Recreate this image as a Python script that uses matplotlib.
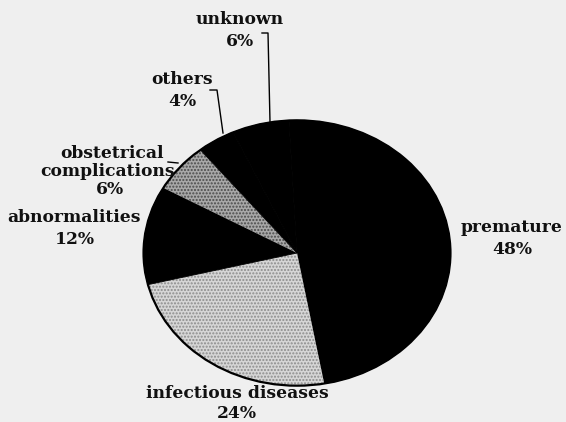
import matplotlib.pyplot as plt
from matplotlib.patches import Circle

# slices, clockwise from the top
causes = ['premature', 'infectious diseases', 'abnormalities',
          'obstetrical\ncomplications', 'others', 'unknown']
shares = [48, 24, 12, 6, 4, 6]
fills = ['#000000', '#d6d6d6', '#000000', '#a8a8a8', '#000000', '#000000']
dots = ['#000000', '#8c8c8c', '#000000', '#4a4a4a', '#000000', '#000000']

W, H = 566, 422
fig = plt.figure(figsize=(W / 100, H / 100), dpi=100, facecolor='#efefef')

# pie centre (297, 253) px, radii 155 x 134 px -> tilted ellipse
cx, cy, rx, ry = 297, 253, 155, 134
ax = fig.add_axes([(cx - rx) / W, 1 - (cy + ry) / H, 2 * rx / W, 2 * ry / H])
wedges, _ = ax.pie(shares, startangle=93, counterclock=False, radius=1,
                   colors=fills, wedgeprops=dict(linewidth=0.6))
for w, d, f in zip(wedges, dots, fills):
    w.set_edgecolor(d)
    if f != '#000000':
        w.set_hatch('.....')
        w.set_linewidth(0)
ax.add_patch(Circle((0, 0), 1.0, fill=False, lw=1.6, color='black'))
ax.set_aspect('auto')
ax.set_xlim(-1.01, 1.01)
ax.set_ylim(-1.01, 1.01)
ax.axis('off')

font = dict(family='DejaVu Serif', weight='bold', size=12.3, ha='center',
            va='center', color='#111111')


def label(x, y, s):
    fig.text(x / W, 1 - y / H, s, **font)


label(240, 20, 'unknown')
label(240, 42, f'{shares[5]}%')
label(182, 80, 'others')
label(182, 101, f'{shares[4]}%')
label(112, 153, 'obstetrical')
label(108, 171, 'complications')
label(110, 190, f'{shares[3]}%')
label(74, 218, 'abnormalities')
label(75, 240, f'{shares[2]}%')
label(512, 228, 'premature')
label(512, 250, f'{shares[0]}%')
label(237, 394, 'infectious diseases')
label(237, 414, f'{shares[1]}%')


# leader lines
def leader(xs, ys):
    fig.add_artist(plt.Line2D([x / W for x in xs], [1 - y / H for y in ys],
                              color='black', lw=1.0))


leader([262, 268, 270], [33, 33, 122])
leader([210, 217, 223], [90, 90, 133])
leader([168, 178], [162, 163])

fig.savefig('out.png', dpi=100, facecolor=fig.get_facecolor())
